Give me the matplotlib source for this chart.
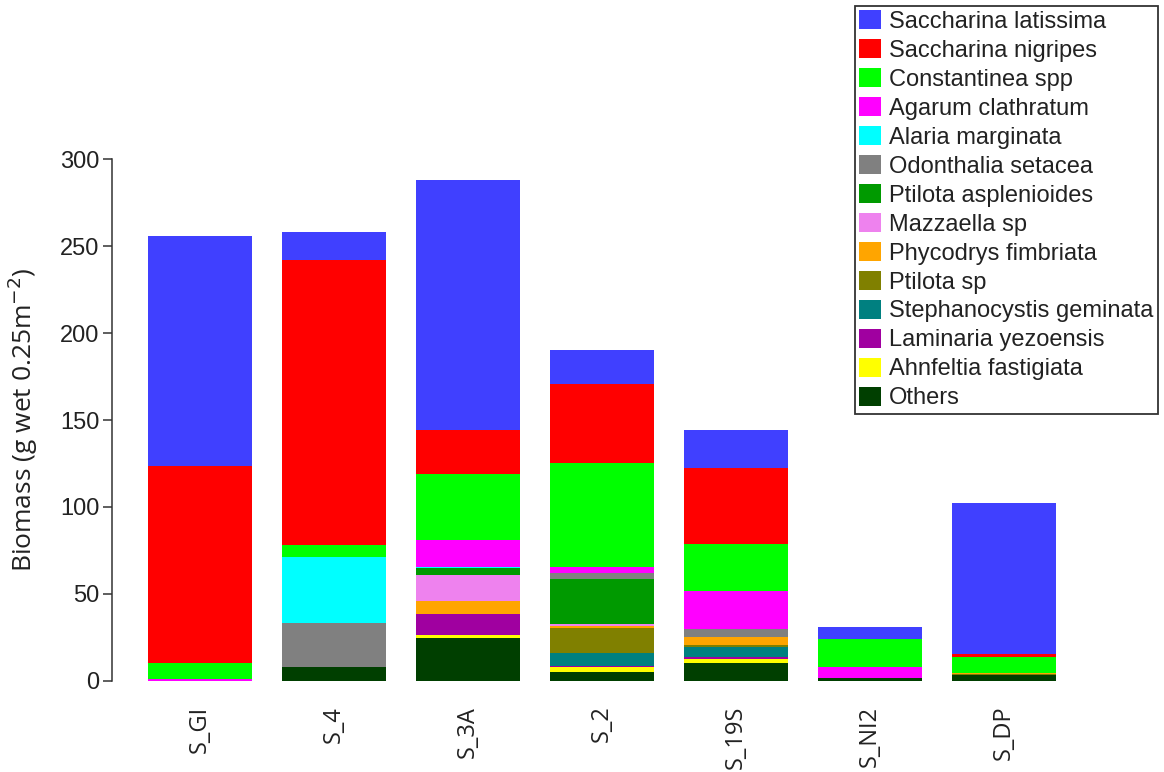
import numpy as np
import matplotlib.pyplot as plt

plt.rcParams['font.family'] = ['Liberation Sans', 'DejaVu Sans']

sites = ["S_GI", "S_4", "S_3A", "S_2", "S_19S", "S_NI2", "S_DP"]

# species listed bottom -> top of the stack
species = ["Others", "Ahnfeltia fastigiata", "Laminaria yezoensis",
           "Stephanocystis geminata", "Ptilota sp", "Phycodrys fimbriata",
           "Mazzaella sp", "Ptilota asplenioides", "Odonthalia setacea",
           "Alaria marginata", "Agarum clathratum", "Constantinea spp",
           "Saccharina nigripes", "Saccharina latissima"]

others = [0, 8.1, 24.4, 4.8, 10.4, 1.4, 3.3]
ahnfeltia = [0, 0, 2.0, 2.9, 2.3, 0, 0]
laminaria = [0, 0, 11.8, 0.8, 1.1, 0, 0]
stephanocystis = [0, 0, 0, 7.6, 5.8, 0, 0]
ptilota_sp = [0, 0, 0, 14.0, 0.9, 0, 0.5]
phycodrys = [0, 0, 7.8, 1.2, 4.8, 0, 0.5]
mazzaella = [0, 0, 14.8, 1.2, 0, 0, 0]
ptilota_asp = [0, 0, 3.9, 26.2, 0, 0, 0]
odonthalia = [0, 25.3, 0, 3.4, 4.4, 0, 0]
alaria = [0, 37.8, 0.9, 0, 0, 0, 0]
agarum = [1.2, 0, 15.4, 3.5, 22.1, 6.7, 0]
constantinea = [9.2, 6.9, 37.9, 59.8, 26.7, 15.9, 9.5]
nigripes = [113.1, 164.0, 25.3, 45.1, 43.7, 0, 1.4]
latissima = [132.4, 16.1, 143.9, 19.8, 22.1, 7.1, 87.0]

values = [others, ahnfeltia, laminaria, stephanocystis, ptilota_sp, phycodrys,
          mazzaella, ptilota_asp, odonthalia, alaria, agarum, constantinea,
          nigripes, latissima]

colors = ["#003f00", "#ffff00", "#a000a0", "#008080", "#808000", "#ffa500",
          "#ee82ee", "#009a00", "#808080", "#00ffff", "#ff00ff", "#00ff00",
          "#ff0000", "#4040ff"]

fig = plt.figure(figsize=(11.64, 7.72), dpi=100)
ax = fig.add_axes([112 / 1164, 1 - 680.7 / 772, 988 / 1164, 521.4 / 772])

x = np.arange(len(sites))
bottom = np.zeros(len(sites))
handles = []
for name, vals, col in zip(species, values, colors):
    b = ax.bar(x, vals, 0.78, bottom=bottom, color=col, label=name, linewidth=0)
    handles.append(b)
    bottom += np.array(vals)

ax.set_xlim(-0.657, 6.716)
ax.set_ylim(0, 300)
ax.set_yticks([0, 50, 100, 150, 200, 250, 300])
ax.set_xticks(x)
ax.set_xticklabels(sites, rotation=90, fontsize=17, family="Open Sans",
                   color="#222222")
ax.tick_params(axis='x', length=0, pad=18)
ax.tick_params(axis='y', length=6.5, width=1.1, labelsize=17, pad=2.5,
               color="#333333", labelcolor="#222222")
for s in ["top", "right", "bottom"]:
    ax.spines[s].set_visible(False)
ax.spines["left"].set_linewidth(1.1)
ax.spines["left"].set_color("#333333")
ax.set_ylabel("Biomass (g wet 0.25m$^{-2}$)", fontsize=19, family="Open Sans",
              color="#222222")
ax.yaxis.set_label_coords(-(112 - 40) / 988, 0.5)

leg = fig.legend(handles[::-1], species[::-1], loc="upper right",
                 bbox_to_anchor=(1158 / 1164, 1 - 6 / 772), borderaxespad=0,
                 prop={"size": 17}, frameon=True, fancybox=False,
                 edgecolor="black", handlelength=0.93, handleheight=0.85,
                 handletextpad=0.34, labelspacing=0.27, borderpad=0.18)
leg.get_frame().set_linewidth(1.3)
for t in leg.get_texts():
    t.set_color("#222222")

fig.savefig("out.png", dpi=100)
